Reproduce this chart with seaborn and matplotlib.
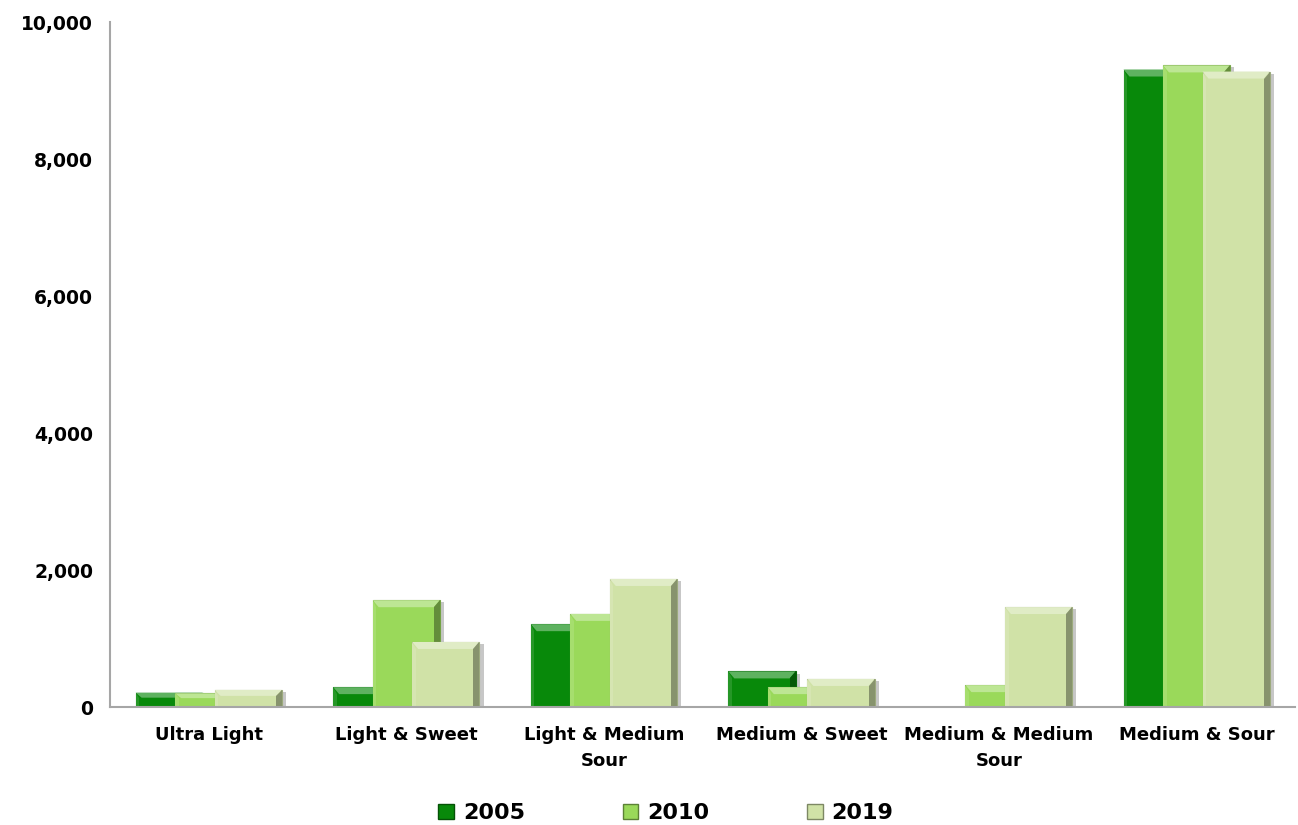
import numpy as np
import pandas as pd
import matplotlib
matplotlib.use('Agg')
import matplotlib.pyplot as plt
import matplotlib.patheffects as pe
from matplotlib.patches import Rectangle, Polygon
from matplotlib.colors import to_rgb
import seaborn as sns

categories = ['Ultra Light', 'Light & Sweet', 'Light & Medium\nSour', 'Medium & Sweet',
              'Medium & Medium\nSour', 'Medium & Sour']
years = ['2005', '2010', '2019']
v2005 = [210, 290, 1210, 520, 0, 9310]
v2010 = [200, 1560, 1360, 290, 320, 9370]
v2019 = [250, 950, 1870, 410, 1460, 9280]
colors = {'2005': '#08890A', '2010': '#9AD95A', '2019': '#D0E2A7'}

df = pd.DataFrame({
    'cat': categories * 3,
    'year': [y for y in years for _ in categories],
    'val': v2005 + v2010 + v2019,
})

sns.set_theme(style='white')
plt.rcParams['font.family'] = ['DejaVu Sans']
plt.rcParams['text.color'] = 'black'
plt.rcParams['xtick.color'] = 'black'
plt.rcParams['ytick.color'] = 'black'

fig = plt.figure(figsize=(12.98, 8.25), dpi=100)
ax = fig.add_axes([0.0847, 0.143, 0.9133, 0.830])
sns.barplot(data=df, x='cat', y='val', hue='year', order=categories, hue_order=years,
            palette=colors, width=0.6, saturation=1, errorbar=None, ax=ax, legend=False)

def shade(c, f):
    r = np.array(to_rgb(c))
    return tuple(np.clip(r * f, 0, 1)) if f < 1 else tuple(r + (1 - r) * (f - 1))

# widen bars so they overlap like the reference (later series on top)
bw, shift = 0.34, -0.07
px_x, px_y = 1 / 197.6, 1000 / 68.5
for i, bar in enumerate(ax.patches):
    year = years[i // len(categories)]
    h = bar.get_height()
    if h <= 0:
        bar.set_visible(False)
        continue
    x0 = bar.get_x() + shift
    bar.set_x(x0)
    bar.set_width(bw)
    base = colors[year]
    bar.set_edgecolor(shade(base, 0.75))
    bar.set_linewidth(0.8)
    bar.set_path_effects([pe.SimplePatchShadow(offset=(3, -1.5), shadow_rgbFace='black', alpha=0.22),
                          pe.Normal()])
    z = bar.get_zorder() + 0.01 * i
    bar.set_zorder(z)
    d = min(7 * px_y, h * 0.35)
    dx = 6 * px_x
    x1 = x0 + bw
    # bevel: top highlight, right darker, left light
    ax.add_patch(Polygon([(x0, h), (x1, h), (x1 - dx, h - d), (x0 + dx, h - d)],
                         closed=True, facecolor=shade(base, 1.35), edgecolor='none', zorder=z + 0.001))
    ax.add_patch(Polygon([(x1, h), (x1, 0), (x1 - dx, 0), (x1 - dx, h - d)],
                         closed=True, facecolor=shade(base, 0.65), edgecolor='none', zorder=z + 0.001))
    ax.add_patch(Polygon([(x0, h), (x0, 0), (x0 + dx * 0.6, 0), (x0 + dx * 0.6, h - d)],
                         closed=True, facecolor=shade(base, 1.12), edgecolor='none', zorder=z + 0.001))

ax.set_xlim(-0.5, 5.5)
ax.set_ylim(0, 10000)
ax.set_yticks(range(0, 10001, 2000))
ax.set_yticklabels([f'{v:,}' for v in range(0, 10001, 2000)], fontsize=13.5, fontweight='bold')
ax.set_xticks(range(len(categories)))
ax.set_xticklabels(categories, fontsize=13, fontweight='bold', linespacing=1.55)
ax.tick_params(axis='x', length=0, pad=14)
ax.tick_params(axis='y', length=0, pad=12)
ax.set_xlabel('')
ax.set_ylabel('')
for s in ['top', 'right']:
    ax.spines[s].set_visible(False)
for s in ['left', 'bottom']:
    ax.spines[s].set_color('#A6A6A6')
    ax.spines[s].set_linewidth(1.5)
ax.grid(False)

handles = [Rectangle((0, 0), 1, 1, facecolor=colors[y], edgecolor=shade(colors[y], 0.6)) for y in years]
fig.legend(handles, years, loc='lower center', bbox_to_anchor=(0.513, -0.022), ncol=3, frameon=False,
           prop={'size': 16, 'weight': 'bold'}, handlelength=0.7, handleheight=0.7,
           handletextpad=0.4, columnspacing=4.4)

fig.savefig('out.png', dpi=100)
